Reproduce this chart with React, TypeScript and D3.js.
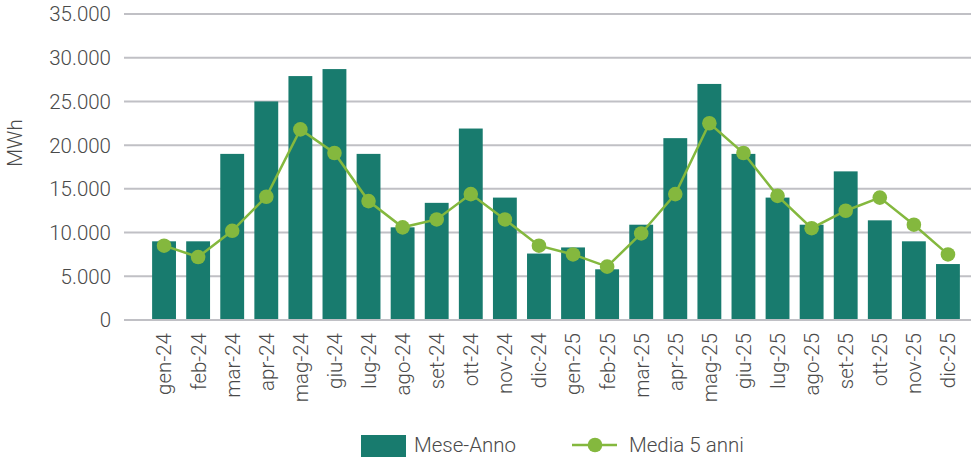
import * as d3 from 'd3';
import React, { useEffect, useRef } from 'react';

const months = [
  'gen-24', 'feb-24', 'mar-24', 'apr-24', 'mag-24', 'giu-24',
  'lug-24', 'ago-24', 'set-24', 'ott-24', 'nov-24', 'dic-24',
  'gen-25', 'feb-25', 'mar-25', 'apr-25', 'mag-25', 'giu-25',
  'lug-25', 'ago-25', 'set-25', 'ott-25', 'nov-25', 'dic-25',
];
const meseAnno = [
  9000, 9000, 19000, 25000, 27900, 28700, 19000, 10600, 13400, 21900, 14000, 7600,
  8300, 5800, 10900, 20800, 27000, 19000, 14000, 10900, 17000, 11400, 9000, 6400,
];
const media5 = [
  8500, 7200, 10200, 14100, 21800, 19100, 13600, 10600, 11500, 14400, 11500, 8500,
  7500, 6100, 9900, 14400, 22500, 19100, 14200, 10500, 12500, 14000, 10900, 7500,
];
const yTicks = [0, 5000, 10000, 15000, 20000, 25000, 30000, 35000];

const W = 971;
const H = 457;
const BAR = '#187b6e';
const LINE = '#84b83e';
const GRID = '#c0c0c5';
const TEXT = '#4a4a4a';
const FONT = 'Roboto, sans-serif';
const FS = 20.5;

const fmt = d3
  .formatLocale({ decimal: ',', thousands: '.', grouping: [3], currency: ['€', ''] })
  .format(',');

export default function App() {
  const ref = useRef<SVGSVGElement>(null);

  useEffect(() => {
    const svg = d3.select(ref.current);
    svg.selectAll('*').remove();

    const x = d3.scaleBand().domain(months).range([147, 965]).paddingInner(0.3).paddingOuter(0.15);
    const y = d3.scaleLinear().domain([0, 35000]).range([320, 14]);

    const label = (sel: any) =>
      sel
        .attr('font-family', FONT)
        .attr('font-weight', 300)
        .attr('font-size', FS)
        .attr('fill', TEXT);

    // gridlines
    svg
      .append('g')
      .selectAll('line')
      .data(yTicks)
      .join('line')
      .attr('x1', 124)
      .attr('x2', W)
      .attr('y1', (d) => y(d))
      .attr('y2', (d) => y(d))
      .attr('stroke', GRID)
      .attr('stroke-width', 2);

    // y labels
    svg
      .append('g')
      .selectAll('text')
      .data(yTicks)
      .join('text')
      .attr('x', 111)
      .attr('y', (d) => y(d))
      .attr('dy', '0.36em')
      .attr('text-anchor', 'end')
      .call(label)
      .text((d) => fmt(d));

    svg
      .append('text')
      .attr('transform', 'translate(22,143) rotate(-90)')
      .attr('text-anchor', 'middle')
      .call(label)
      .text('MWh');

    // bars
    svg
      .append('g')
      .selectAll('rect')
      .data(meseAnno)
      .join('rect')
      .attr('x', (d, i) => x(months[i])!)
      .attr('width', x.bandwidth())
      .attr('y', (d) => y(d))
      .attr('height', (d) => y(0) - y(d) - 1)
      .attr('fill', BAR);

    // x labels
    const cx = (i: number) => x(months[i])! + x.bandwidth() / 2;
    svg
      .append('g')
      .selectAll('text')
      .data(months)
      .join('text')
      .attr('transform', (d, i) => `translate(${cx(i)},333) rotate(-90)`)
      .attr('dy', '0.36em')
      .attr('text-anchor', 'end')
      .call(label)
      .text((d) => d);

    // line
    const line = d3
      .line<number>()
      .x((d, i) => cx(i))
      .y((d) => y(d));
    svg
      .append('path')
      .datum(media5)
      .attr('d', line)
      .attr('fill', 'none')
      .attr('stroke', LINE)
      .attr('stroke-width', 2.5);
    svg
      .append('g')
      .selectAll('circle')
      .data(media5)
      .join('circle')
      .attr('cx', (d, i) => cx(i))
      .attr('cy', (d) => y(d))
      .attr('r', 7.3)
      .attr('fill', LINE);

    // legend
    const lg = svg.append('g');
    lg.append('rect').attr('x', 361).attr('y', 435).attr('width', 45).attr('height', 24).attr('fill', BAR);
    lg.append('text').attr('x', 414).attr('y', 452).call(label).text('Mese-Anno');
    lg.append('line')
      .attr('x1', 572)
      .attr('x2', 617)
      .attr('y1', 445)
      .attr('y2', 445)
      .attr('stroke', LINE)
      .attr('stroke-width', 2.5);
    lg.append('circle').attr('cx', 595).attr('cy', 445).attr('r', 7.3).attr('fill', LINE);
    lg.append('text').attr('x', 629).attr('y', 452).call(label).text('Media 5 anni');
  }, []);

  return (
    <svg
      ref={ref}
      width={W}
      height={H}
      style={{ position: 'absolute', left: 0, top: 0, background: '#fff' }}
    />
  );
}
